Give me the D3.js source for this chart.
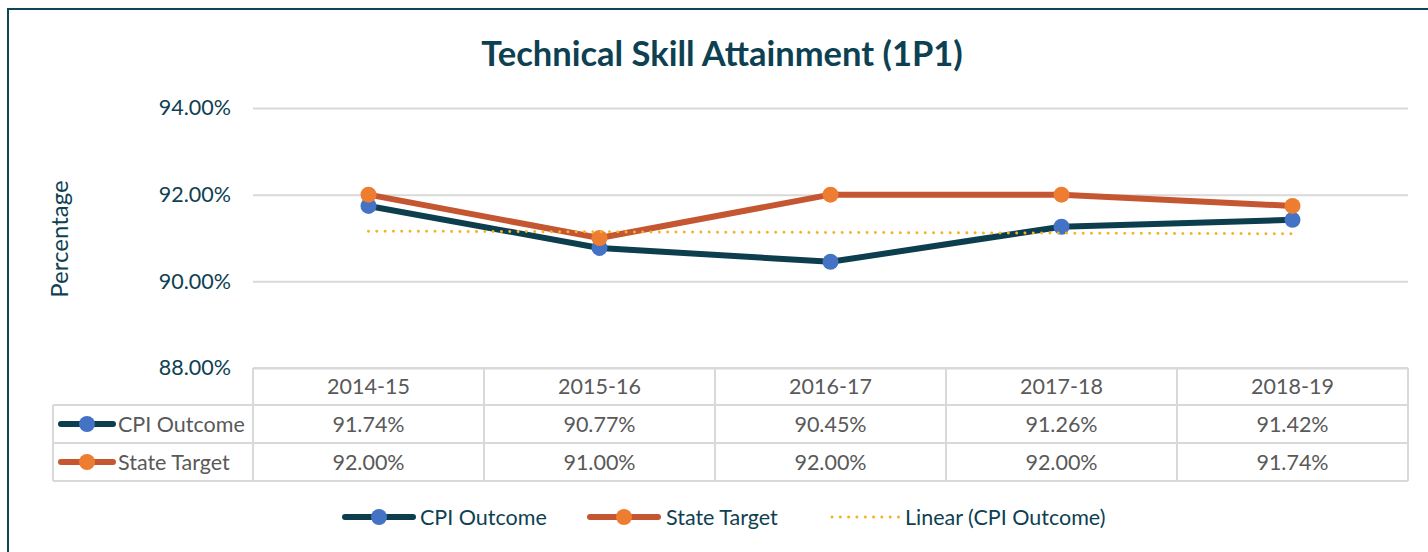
<!DOCTYPE html>
<html><head><meta charset="utf-8">
<script src="https://cdn.jsdelivr.net/npm/d3@7"></script>
<style>
html,body{margin:0;padding:0;background:#fff;}
svg text{font-family:Lato,"Open Sans",sans-serif;}
</style></head>
<body>
<svg id="chart" width="1428" height="552"></svg>
<script>
const categories = ["2014-15","2015-16","2016-17","2017-18","2018-19"];
const cpiOutcome = [91.74, 90.77, 90.45, 91.26, 91.42];
const stateTarget = [92.00, 91.00, 92.00, 92.00, 91.74];
const yTicks = [88, 90, 92, 94];
const seriesNames = ["CPI Outcome","State Target","Linear (CPI Outcome)"];

const svg = d3.select("#chart");
const teal = "#0d4152";
const cpiLine = "#0c3e4e", cpiMarker = "#4472c4";
const stLine = "#c55632", stMarker = "#ed7d31";
const trendColor = "#f4b224";
const grid = "#d9d9d9";
const tableText = "#595959";
const fs = 21.5;

// border
svg.append("rect").attr("x",8).attr("y",9).attr("width",1440).attr("height",560)
  .attr("fill","none").attr("stroke","#0e4658").attr("stroke-width",2);

// title
svg.append("text").attr("x",722).attr("y",66).attr("text-anchor","middle")
  .attr("font-size",34.5).attr("font-weight",700).attr("fill",teal)
  .text("Technical Skill Attainment (1P1)");

const left = 253, right = 1408;
const x = d3.scaleBand().domain(categories).range([left,right]).padding(0);
const y = d3.scaleLinear().domain([88,94]).range([368,108]);
const cx = d => x(d) + x.bandwidth()/2;

// gridlines
const yAxis = d3.axisLeft(y).tickValues(yTicks).tickSize(-(right-left)).tickFormat(d => d3.format(".2f")(d) + "%");
const gAxis = svg.append("g").attr("transform",`translate(${left},0)`).call(yAxis);
gAxis.select(".domain").remove();
gAxis.selectAll(".tick line").attr("stroke",grid).attr("stroke-width",2);
gAxis.selectAll(".tick text").attr("x",-22).attr("fill",teal).attr("font-size",fs)
  .style("font-family","Lato, sans-serif");

// y label
svg.append("text").attr("transform","translate(68,239) rotate(-90)").attr("text-anchor","middle")
  .attr("font-size",24).attr("fill",teal).text("Percentage");

// trendline (least squares of CPI outcome)
const n = cpiOutcome.length;
const xs = d3.range(1,n+1);
const mx = d3.mean(xs), my = d3.mean(cpiOutcome);
const slope = d3.sum(xs.map((v,i)=>(v-mx)*(cpiOutcome[i]-my))) / d3.sum(xs.map(v=>(v-mx)*(v-mx)));
const icpt = my - slope*mx;

const line = d3.line().x((d,i)=>cx(categories[i])).y(d=>y(d));
svg.append("path").datum(cpiOutcome).attr("d",line).attr("fill","none")
  .attr("stroke",cpiLine).attr("stroke-width",6).attr("stroke-linejoin","round");
svg.selectAll(".cpm").data(cpiOutcome).enter().append("circle")
  .attr("cx",(d,i)=>cx(categories[i])).attr("cy",d=>y(d)).attr("r",8).attr("fill",cpiMarker);
svg.append("path").datum(stateTarget).attr("d",line).attr("fill","none")
  .attr("stroke",stLine).attr("stroke-width",6).attr("stroke-linejoin","round");
svg.selectAll(".stm").data(stateTarget).enter().append("circle")
  .attr("cx",(d,i)=>cx(categories[i])).attr("cy",d=>y(d)).attr("r",8).attr("fill",stMarker);

svg.append("line")
  .attr("x1",cx(categories[0])).attr("x2",cx(categories[n-1]))
  .attr("y1",y(icpt+slope*1)).attr("y2",y(icpt+slope*n))
  .attr("stroke",trendColor).attr("stroke-width",3).attr("stroke-dasharray","0.01 8.3").attr("stroke-linecap","round");

// data table
const rowTops = [368, 405, 443, 481];
const tl = 53;
const gt = svg.append("g").attr("stroke",grid).attr("stroke-width",2).attr("fill","none");
gt.append("line").attr("x1",left).attr("x2",right).attr("y1",rowTops[0]).attr("y2",rowTops[0]);
[1,2,3].forEach(k=>gt.append("line").attr("x1",tl).attr("x2",right).attr("y1",rowTops[k]).attr("y2",rowTops[k]));
gt.append("line").attr("x1",tl).attr("x2",tl).attr("y1",rowTops[1]).attr("y2",rowTops[3]);
categories.forEach(c=>gt.append("line").attr("x1",x(c)).attr("x2",x(c)).attr("y1",rowTops[0]).attr("y2",rowTops[3]));
gt.append("line").attr("x1",right).attr("x2",right).attr("y1",rowTops[0]).attr("y2",rowTops[3]);

const fmt = d => d3.format(".2f")(d) + "%";
const rowMid = k => (rowTops[k]+rowTops[k+1])/2 + 7.5;
categories.forEach((c,i)=>{
  svg.append("text").attr("x",cx(c)).attr("y",rowMid(0)).attr("text-anchor","middle")
    .attr("font-size",fs).attr("fill",tableText).text(c);
  svg.append("text").attr("x",cx(c)).attr("y",rowMid(1)).attr("text-anchor","middle")
    .attr("font-size",fs).attr("fill",tableText).text(fmt(cpiOutcome[i]));
  svg.append("text").attr("x",cx(c)).attr("y",rowMid(2)).attr("text-anchor","middle")
    .attr("font-size",fs).attr("fill",tableText).text(fmt(stateTarget[i]));
});

function legendKey(g, x0, x1, yy, lc, mc){
  g.append("line").attr("x1",x0).attr("x2",x1).attr("y1",yy).attr("y2",yy)
    .attr("stroke",lc).attr("stroke-width",6).attr("stroke-linecap","round");
  g.append("circle").attr("cx",(x0+x1)/2).attr("cy",yy).attr("r",8).attr("fill",mc);
}
const tk = svg.append("g");
legendKey(tk, 61, 113, (rowTops[1]+rowTops[2])/2, cpiLine, cpiMarker);
legendKey(tk, 61, 113, (rowTops[2]+rowTops[3])/2, stLine, stMarker);
svg.append("text").attr("x",118).attr("y",rowMid(1)).attr("font-size",fs).attr("fill",tableText).text(seriesNames[0]);
svg.append("text").attr("x",118).attr("y",rowMid(2)).attr("font-size",fs).attr("fill",tableText).text(seriesNames[1]);

// bottom legend
const lg = svg.append("g");
const ly = 517;
legendKey(lg, 345, 413, ly, cpiLine, cpiMarker);
lg.append("text").attr("x",420).attr("y",ly+7.5).attr("font-size",fs).attr("fill",teal).text(seriesNames[0]);
legendKey(lg, 590, 658, ly, stLine, stMarker);
lg.append("text").attr("x",666).attr("y",ly+7.5).attr("font-size",fs).attr("fill",teal).text(seriesNames[1]);
lg.append("line").attr("x1",832).attr("x2",899).attr("y1",ly).attr("y2",ly)
  .attr("stroke",trendColor).attr("stroke-width",3).attr("stroke-dasharray","0.01 8.3").attr("stroke-linecap","round");
lg.append("text").attr("x",905).attr("y",ly+7.5).attr("font-size",fs).attr("fill",teal).text(seriesNames[2]);
</script>
</body></html>
